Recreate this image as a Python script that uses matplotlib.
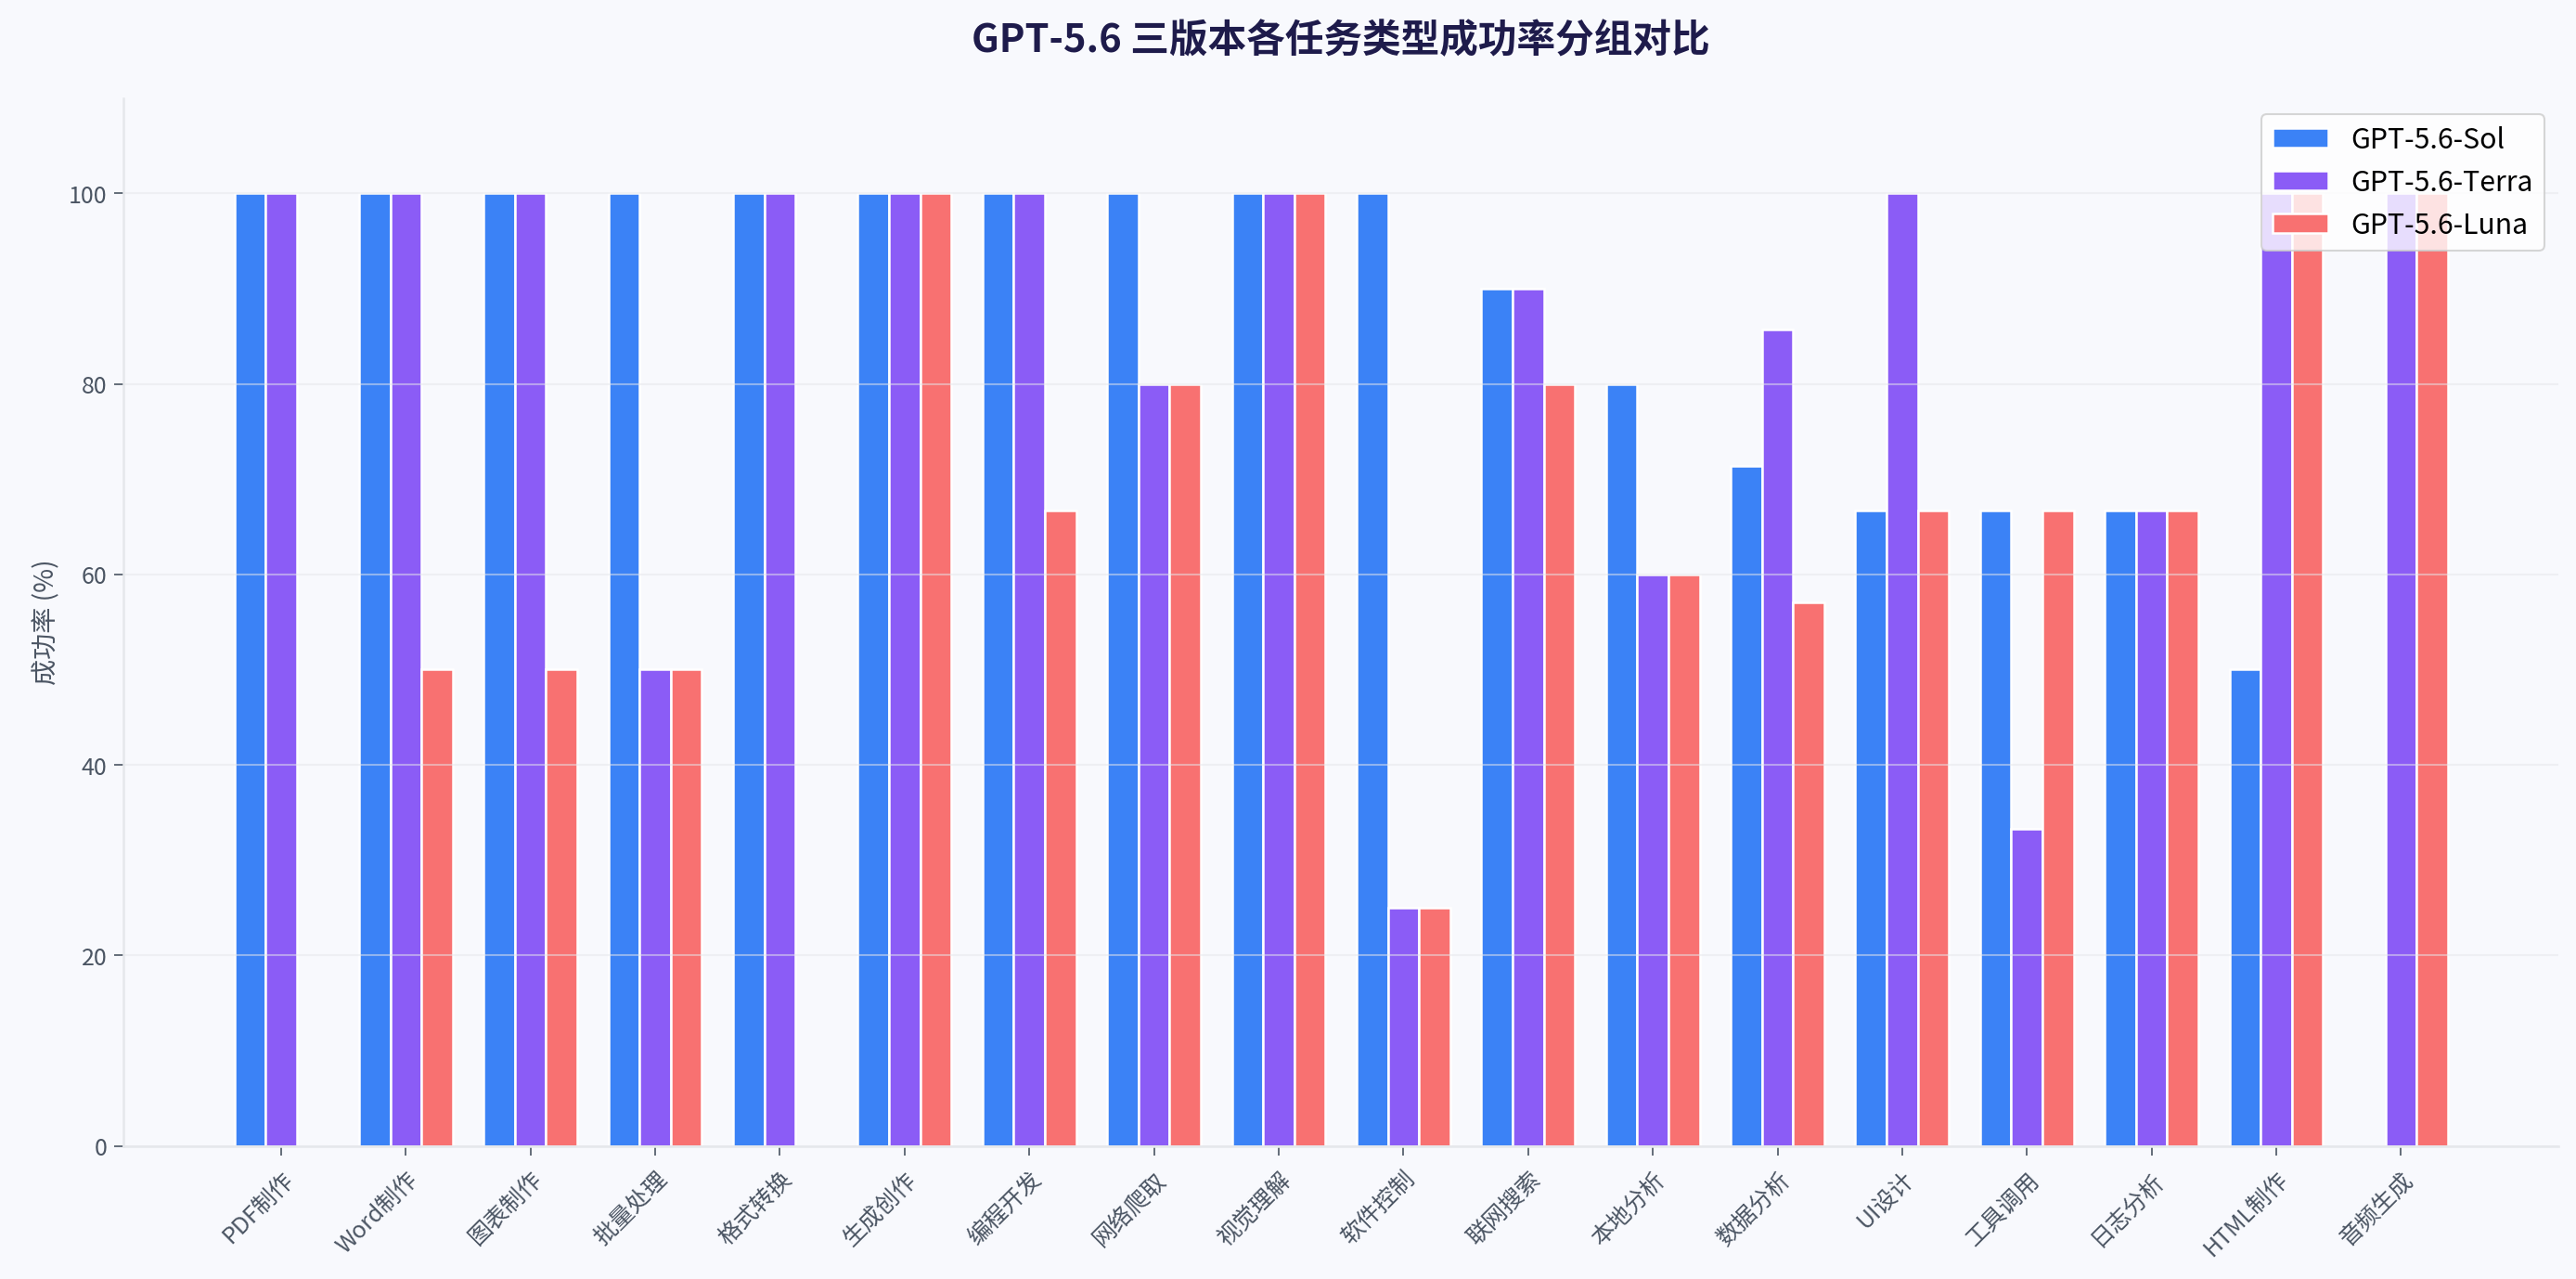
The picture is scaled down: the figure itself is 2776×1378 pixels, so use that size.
import matplotlib
matplotlib.use("Agg")
import matplotlib.pyplot as plt
import numpy as np

plt.rcParams['font.family'] = ['Noto Sans CJK SC', 'DejaVu Sans']

categories = ['PDF制作', 'Word制作', '图表制作', '批量处理', '格式转换', '生成创作',
              '编程开发', '网络爬取', '视觉理解', '软件控制', '联网搜索', '本地分析',
              '数据分析', 'UI设计', '工具调用', '日志分析', 'HTML制作', '音频生成']
sol = [100, 100, 100, 100, 100, 100, 100, 100, 100, 100, 90, 80,
       71.4, 66.7, 66.7, 66.7, 50, 0]
terra = [100, 100, 100, 50, 100, 100, 100, 80, 100, 25, 90, 60,
         85.7, 100, 33.3, 66.7, 100, 100]
luna = [0, 50, 50, 50, 0, 100, 66.7, 80, 100, 25, 80, 60,
        57.1, 66.7, 66.7, 66.7, 100, 100]

series = [('GPT-5.6-Sol', sol, '#3b82f6'),
          ('GPT-5.6-Terra', terra, '#8b5cf6'),
          ('GPT-5.6-Luna', luna, '#f87171')]

bg = '#f8f9fd'
fig = plt.figure(figsize=(18.51, 9.19), dpi=150, facecolor=bg)
ax = fig.add_axes([0.048, 0.104, 0.945, 0.819])
ax.set_facecolor(bg)

x = np.arange(len(categories))
w = 0.25
for i, (name, vals, col) in enumerate(series):
    ax.bar(x + (i - 1) * w, vals, w, color=col, edgecolor='white',
           linewidth=1.2, label=name)

ax.set_ylim(0, 110)
ax.set_yticks([0, 20, 40, 60, 80, 100])
ax.set_xticks(x)
ax.set_xticklabels(categories, rotation=45, ha='right', rotation_mode='anchor')
ax.tick_params(axis='both', colors='#4b5563', labelsize=12, length=5)
ax.tick_params(axis='x', pad=6)
ax.set_ylabel('成功率 (%)', fontsize=13.5, color='#4b5563')

ax.grid(axis='y', color='#e5e7eb', alpha=0.5, linewidth=1)
for s in ['top', 'right']:
    ax.spines[s].set_visible(False)
for s in ['left', 'bottom']:
    ax.spines[s].set_color('#e5e7eb')
    ax.spines[s].set_linewidth(1.2)

ax.legend(loc='upper right', fontsize=14.5, framealpha=0.8,
          edgecolor='#cccccc', bbox_to_anchor=(1.0, 0.998))

fig.text(0.048 + 0.945 / 2, 0.968, 'GPT-5.6 三版本各任务类型成功率分组对比',
         ha='center', va='center', fontsize=20, fontweight='bold', color='#1e1b4b')

fig.savefig('out.png', dpi=150, facecolor=bg)
